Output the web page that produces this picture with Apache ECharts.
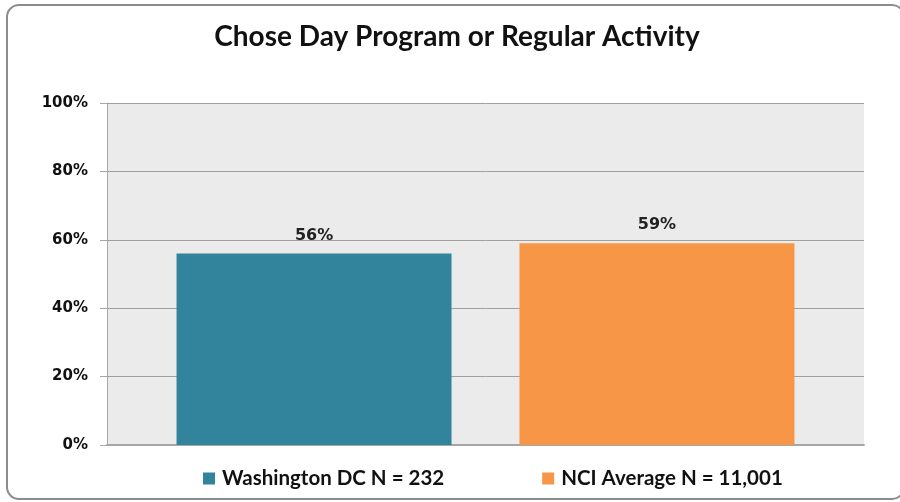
<!DOCTYPE html>
<html>
<head>
<meta charset="utf-8">
<script src="https://cdn.jsdelivr.net/npm/echarts@6/dist/echarts.min.js"></script>
<style>
  html, body { margin: 0; padding: 0; background: #fff; }
  #chart { width: 900px; height: 502px; }
</style>
</head>
<body>
<div id="chart"></div>
<script>
// data
var seriesNames = ["Washington DC N = 232", "NCI Average N = 11,001"];
var seriesValues = [56, 59];
var seriesColors = ["#31849b", "#f79646"];
var yTicks = [0, 20, 40, 60, 80, 100];

var titleFont = "Lato, 'Open Sans', sans-serif";
var numFont = "'DejaVu Sans', sans-serif";

var chart = echarts.init(document.getElementById("chart"));

var series = seriesNames.map(function (name, i) {
  return {
    name: name,
    type: "bar",
    data: [seriesValues[i]],
    barWidth: 275,
    barGap: "24.7%",
    itemStyle: { color: seriesColors[i] },
    label: {
      show: true,
      position: "top",
      distance: 10,
      formatter: "{c}%",
      color: "#222",
      fontFamily: numFont,
      fontWeight: "bold",
      fontSize: 16
    }
  };
});

var option = {
  animation: false,
  title: {
    text: "Chose Day Program or Regular Activity",
    left: 452,
    textAlign: "center",
    top: 18,
    textStyle: {
      fontFamily: titleFont,
      fontWeight: "bold",
      fontSize: 28,
      color: "#111"
    }
  },
  graphic: [{
    type: "rect",
    shape: { x: 7, y: 5, width: 897, height: 494, r: 12 },
    style: { fill: null, stroke: "#8c8c8c", lineWidth: 2 },
    z: 100,
    silent: true
  }],
  grid: {
    left: 107,
    right: 36,
    top: 103,
    bottom: 57,
    show: true,
    backgroundColor: "#ebebeb",
    borderWidth: 0
  },
  legend: {
    top: 468,
    left: 203,
    icon: "rect",
    itemWidth: 12,
    itemHeight: 12,
    itemGap: 98,
    textStyle: {
      fontFamily: titleFont,
      fontWeight: "bold",
      fontSize: 20.5,
      color: "#111",
      padding: [0, 0, 0, 2]
    },
    padding: 0,
    data: seriesNames
  },
  xAxis: {
    type: "category",
    data: [""],
    axisLine: { show: true, lineStyle: { color: "#a6a6a6", width: 2 } },
    axisTick: { show: false },
    axisLabel: { show: false }
  },
  yAxis: {
    type: "value",
    min: yTicks[0],
    max: yTicks[yTicks.length - 1],
    interval: 20,
    axisLine: { show: true, lineStyle: { color: "#a6a6a6" } },
    axisTick: { show: true, length: 7, lineStyle: { color: "#a6a6a6" } },
    axisLabel: {
      formatter: "{value}%",
      margin: 19,
      fontFamily: numFont,
      fontWeight: "bold",
      fontSize: 15,
      color: "#111"
    },
    splitLine: { lineStyle: { color: "#a0a0a0", width: 1 } }
  },
  series: series
};

chart.setOption(option);
</script>
</body>
</html>
